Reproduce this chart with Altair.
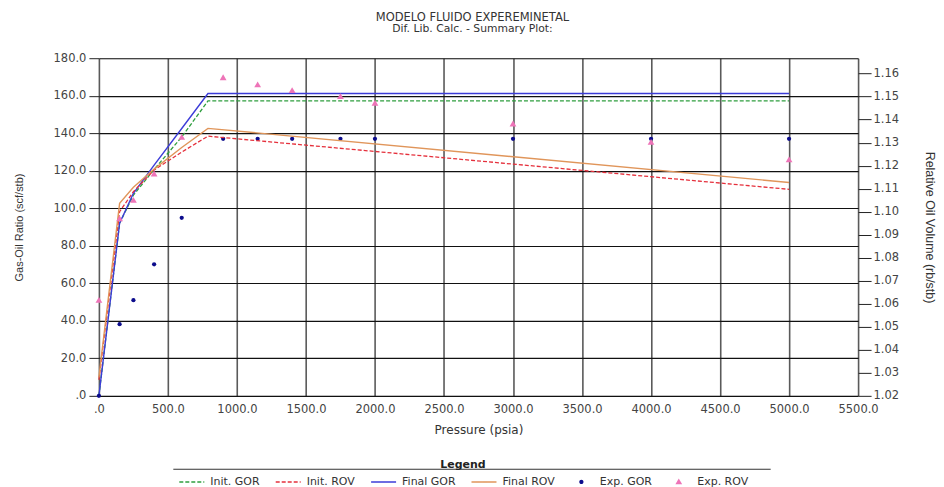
import altair as alt
import pandas as pd

# ---- data ----
line_p = [0, 150, 250, 400, 600, 790, 5000]
init_gor = [0, 92.0, 107.0, 120.7, 138.0, 157.2, 157.2]
final_gor = [0, 92.0, 108.0, 123.0, 142.5, 161.2, 161.2]
init_rov = [1.027, 1.1000, 1.1087, 1.1181, 1.1259, 1.1328, 1.1097]
final_rov = [1.028, 1.1036, 1.1106, 1.1185, 1.1279, 1.1362, 1.1127]

exp_p = [0, 150, 250, 400, 600, 900, 1150, 1400, 1750, 2000, 3000, 4000, 5000]
exp_gor = [0, 38.2, 51.0, 70.1, 94.9, 137, 137, 137, 137, 137, 137, 137, 137]
exp_rov = [1.0617, 1.0971, 1.1051, 1.1166, 1.1325, 1.1584, 1.1553, 1.1528,
           1.1502, 1.1473, 1.1383, 1.1303, 1.1227]

series_names = ["Init. GOR", "Init. ROV", "Final GOR", "Final ROV", "Exp. GOR", "Exp. ROV"]
series_colors = ["#2f9e3f", "#e5303c", "#3c3cd8", "#e0955a", "#0c0c8c", "#ee74b8"]

# legend symbol shapes (unit-square paths for the two point series)
dot_path = "M -0.17,0 A 0.17,0.17 0 1,0 0.17,0 A 0.17,0.17 0 1,0 -0.17,0 Z"
tri_path = "M 0,-0.25 L 0.27,0.22 L -0.27,0.22 Z"
legend_shapes = ["stroke", "stroke", "stroke", "stroke", dot_path, tri_path]
legend_dashes = [[4, 2], [4, 2], [1, 0], [1, 0], [1, 0], [1, 0]]

x_ticks = list(range(0, 5501, 500))
gor_ticks = list(range(0, 181, 20))
rov_ticks = [round(1.02 + 0.01 * i, 2) for i in range(15)]

col = dict(zip(series_names, series_colors))

lines_df = pd.DataFrame({"p": line_p, "init_gor": init_gor, "final_gor": final_gor,
                         "init_rov": init_rov, "final_rov": final_rov})
exp_df = pd.DataFrame({"p": exp_p, "gor": exp_gor, "rov": exp_rov})

FONT_H = "DejaVu Sans"
FONT_V = "Liberation Sans"

x_axis = alt.Axis(values=x_ticks, title="Pressure (psia)",
                  labelExpr="datum.value == 0 ? '.0' : format(datum.value, '.1f')",
                  grid=True, gridColor="#5a5a5a", gridWidth=1.6, ticks=False, domain=False,
                  labelFont=FONT_H, labelFontSize=11.5, labelColor="#444", labelPadding=8,
                  titleFont=FONT_H, titleFontSize=12, titleFontWeight="normal",
                  titleColor="#333", titlePadding=9, labelFlush=False)
x_enc = alt.X("p:Q", scale=alt.Scale(domain=[0, 5500], nice=False, zero=False), axis=x_axis)

gor_scale = alt.Scale(domain=[0, 180], nice=False)
gor_axis = alt.Axis(values=gor_ticks, orient="left", title="Gas-Oil Ratio (scf/stb)",
                    labelExpr="datum.value == 0 ? '.0' : format(datum.value, '.1f')",
                    grid=True, gridColor="#111", gridWidth=1.1, domain=False,
                    tickColor="#222", tickSize=10, labelPadding=3,
                    labelFont=FONT_H, labelFontSize=11.5, labelColor="#444",
                    titleFont=FONT_V, titleFontSize=11, titleFontWeight="normal",
                    titleColor="#333", titlePadding=28.5)

rov_scale = alt.Scale(domain=[1.02, 1.16667], nice=False, zero=False)
rov_axis = alt.Axis(values=rov_ticks, orient="right", title="Relative Oil Volume (rb/stb)",
                    format=".2f", grid=False, domain=False,
                    tickColor="#222", tickSize=13, labelPadding=2,
                    labelFont=FONT_H, labelFontSize=11.5, labelColor="#444",
                    titleFont=FONT_V, titleFontSize=12.5, titleFontWeight="normal",
                    titleColor="#333", titlePadding=24)

base_l = alt.Chart(lines_df)
base_e = alt.Chart(exp_df)

g_init = base_l.mark_line(color=col["Init. GOR"], strokeDash=[4, 2], strokeWidth=1.3).encode(
    x=x_enc, y=alt.Y("init_gor:Q", scale=gor_scale, axis=gor_axis))
g_final = base_l.mark_line(color=col["Final GOR"], strokeWidth=1.4).encode(
    x=x_enc, y=alt.Y("final_gor:Q", scale=gor_scale, axis=gor_axis))
g_exp = base_e.mark_circle(color=col["Exp. GOR"], size=18, opacity=1).encode(
    x=x_enc, y=alt.Y("gor:Q", scale=gor_scale, axis=gor_axis))

r_init = base_l.mark_line(color=col["Init. ROV"], strokeDash=[4, 2], strokeWidth=1.3).encode(
    x=x_enc, y=alt.Y("init_rov:Q", scale=rov_scale, axis=rov_axis))
r_final = base_l.mark_line(color=col["Final ROV"], strokeWidth=1.4).encode(
    x=x_enc, y=alt.Y("final_rov:Q", scale=rov_scale, axis=rov_axis))
r_exp = base_e.mark_point(shape="triangle-up", filled=True, color=col["Exp. ROV"],
                          size=46, opacity=1).encode(
    x=x_enc, y=alt.Y("rov:Q", scale=rov_scale, axis=rov_axis))

gor_layer = alt.layer(g_init, g_final, g_exp)
rov_layer = alt.layer(r_init, r_final, r_exp)

# ---- legend: one merged native legend built from several channels ----
def mk_legend():
    return alt.Legend(
        title="Legend", orient="none", legendX=79.5, legendY=401, direction="horizontal",
        columns=6, titleAnchor="middle", symbolStrokeWidth=1.5, symbolOpacity=1,
        symbolSize=625,
        labelFont=FONT_H, labelFontSize=11, labelColor="#333", labelOffset=5,
        columnPadding=12.5, titleFont=FONT_H, titleFontSize=11, titleFontWeight="bold",
        titleColor="#222", titlePadding=-2)

pt_fill = ["transparent"] * 4 + series_colors[4:]
ln_stroke = series_colors[:4] + ["transparent"] * 2

legend_layer = alt.Chart(pd.DataFrame({"series": pd.Series([], dtype=str)})).mark_point(
    filled=True).encode(
    stroke=alt.Stroke("series:N", scale=alt.Scale(domain=series_names, range=ln_stroke),
                      legend=mk_legend()),
    fill=alt.Fill("series:N", scale=alt.Scale(domain=series_names, range=pt_fill),
                  legend=mk_legend()),
    shape=alt.Shape("series:N", scale=alt.Scale(domain=series_names, range=legend_shapes),
                    legend=mk_legend()),
    strokeDash=alt.StrokeDash("series:N", scale=alt.Scale(domain=series_names, range=legend_dashes),
                              legend=mk_legend()),
)

underline = alt.Chart(pd.DataFrame({"k": [0]})).mark_rule(color="#333", strokeWidth=1).encode(
    x=alt.value(74.5), x2=alt.value(672.5), y=alt.value(411.5))

chart = alt.layer(gor_layer, rov_layer, legend_layer, underline).resolve_scale(
    y="independent"
).properties(
    width=760, height=338,
    padding={"left": 5, "top": 3, "right": 0, "bottom": 0},
    title=alt.Title("MODELO FLUIDO EXPEREMINETAL", subtitle="Dif. Lib. Calc. - Summary Plot:",
                    font=FONT_H, fontSize=11.5, fontWeight="normal", color="#333",
                    subtitleFont=FONT_H, subtitleFontSize=10.8, subtitleColor="#333",
                    subtitlePadding=0, anchor="middle", offset=18, dx=-6),
).configure_view(stroke="black", strokeWidth=2).configure(background="white")

chart.save("out.html", embed_options={"renderer": "svg", "actions": False})
